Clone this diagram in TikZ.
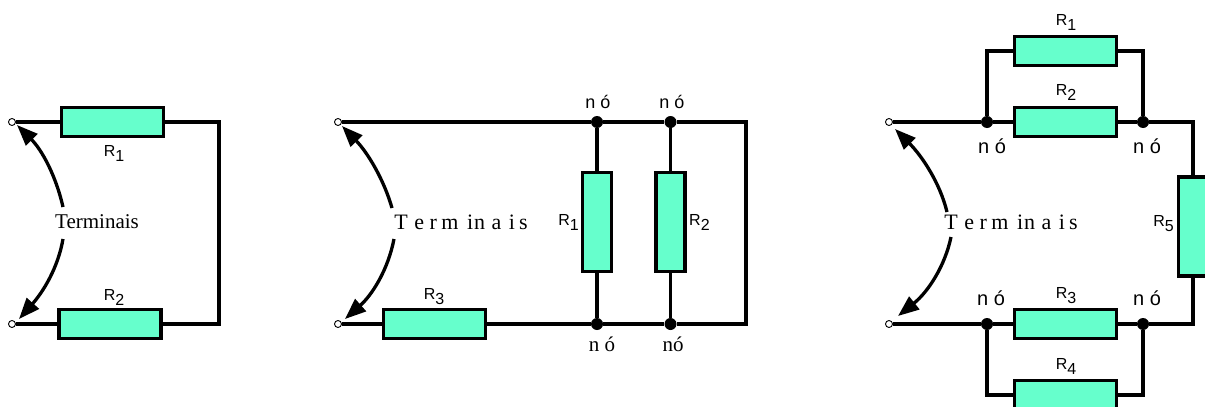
\documentclass[tikz,border=0pt]{standalone}
\usepackage{fontspec}
\setmainfont{Liberation Serif}
\setsansfont{Liberation Sans}
\usetikzlibrary{arrows.meta}
\definecolor{resfill}{HTML}{66FFCC}
\tikzset{
  wire/.style={line width=3.3pt},
  hres/.style={draw, line width=3.6pt, fill=resfill, minimum width=102pt, minimum height=29pt, inner sep=0pt},
  vres/.style={draw, line width=3.6pt, fill=resfill, minimum width=29pt, minimum height=99pt, inner sep=0pt},
  term/.style={circle, draw, line width=0.9pt, fill=white, minimum size=7pt, inner sep=0pt},
  junc/.style={circle, fill=black, minimum size=12pt, inner sep=0pt},
  rlab/.style={font=\sffamily\fontsize{16}{16}\selectfont, inner sep=0pt},
  nlab/.style={font=\sffamily\fontsize{18}{18}\selectfont, inner sep=0pt},
  nlabb/.style={font=\sffamily\fontsize{20}{20}\selectfont, inner sep=0pt},
  nlabs/.style={font=\rmfamily\fontsize{21}{21}\selectfont, inner sep=0pt},
  tlab/.style={font=\rmfamily\fontsize{21}{21}\selectfont, inner sep=0pt},
  tlabs/.style={font=\rmfamily\fontsize{22}{22}\selectfont, inner sep=0pt},
  arr/.style={line width=3.3pt, -{Triangle[length=21pt,width=16pt]}},
}
\newcommand{\Rs}[1]{R\raisebox{-5pt}{#1}}
\newcommand{\spacedterm}{T\kern6.5pt e\kern5.5pt r\kern4.5pt m\kern8.5pt i\kern1pt n\kern6.5pt a\kern7.5pt i\kern4pt s}
\begin{document}
\begin{tikzpicture}[x=1pt,y=-1pt]
\useasboundingbox (0,0) rectangle (1205,407);

% ---------- Diagram 1 ----------
\node[hres] (d1r1) at (112.5,122) {};
\node[hres] (d1r2) at (110,324) {};
\node[term] (t1a) at (12,122) {};
\node[term] (t1b) at (12,324) {};
\coordinate (d1c1) at (219,122);
\coordinate (d1c2) at (219,324);
\draw[wire] (t1a.east) -- (d1r1.west);
\draw[wire] (d1r1.east) -- (d1c1) -- (d1c2) -- (d1r2.east);
\draw[wire] (d1r2.west) -- (t1b.east);
\node[rlab] (d1l1) at (114,153) {\Rs{1}};
\node[rlab] (d1l2) at (114,297) {\Rs{2}};
\node[tlab] (d1t) at (97,222) {Terminais};
\coordinate (d1a1) at (63,207);
\coordinate (d1a2) at (17,125);
\coordinate (d1b1) at (63,239);
\coordinate (d1b2) at (19,319);
\draw[arr] (d1a1) .. controls (56,176) and (42,150) .. (d1a2);
\draw[arr] (d1b1) .. controls (58,268) and (43,292) .. (d1b2);

% ---------- Diagram 2 ----------
\node[term] (t2a) at (338,122) {};
\node[term] (t2b) at (338,324) {};
\node[hres] (d2r3) at (434.5,324) {};
\node[vres] (d2r1) at (597,222) {};
\node[vres] (d2r2) at (670.5,222) {};
\node[junc] (j1) at (597,122) {};
\node[junc] (j2) at (670.5,122) {};
\node[junc] (j3) at (597,324) {};
\node[junc] (j4) at (670.5,324) {};
\coordinate (d2c1) at (746,122);
\coordinate (d2c2) at (746,324);
\draw[wire] (t2a.east) -- (j1) -- (j2) -- (d2c1) -- (d2c2) -- (j4) -- (j3) -- (d2r3.east);
\draw[wire] (d2r3.west) -- (t2b.east);
\draw[wire] (j1) -- (d2r1.north);
\draw[wire] (d2r1.south) -- (j3);
\draw[wire] (j2) -- (d2r2.north);
\draw[wire] (d2r2.south) -- (j4);
\node[rlab, anchor=east] (d2l1) at (579,222) {\Rs{1}};
\node[rlab, anchor=west] (d2l2) at (689,222) {\Rs{2}};
\node[rlab] (d2l3) at (434,297) {\Rs{3}};
\node[nlab] (n1) at (598,102) {n ó};
\node[nlab] (n2) at (672,102) {n ó};
\node[nlabs] (n3) at (602,344) {n ó};
\node[nlabs] (n4) at (673,344) {nó};
\node[tlabs] (d2t) at (461,222) {\spacedterm};
\coordinate (d2a1) at (392,208);
\coordinate (d2a2) at (342,126);
\coordinate (d2b1) at (394,239);
\coordinate (d2b2) at (345,319);
\draw[arr] (d2a1) .. controls (384,180) and (368,153) .. (d2a2);
\draw[arr] (d2b1) .. controls (388,270) and (372,295) .. (d2b2);

% ---------- Diagram 3 ----------
\node[term] (t3a) at (889,122) {};
\node[term] (t3b) at (889,324) {};
\node[hres] (d3r1) at (1065.5,51) {};
\node[hres] (d3r2) at (1065.5,122) {};
\node[hres] (d3r3) at (1065.5,324) {};
\node[hres] (d3r4) at (1065.5,395) {};
\node[vres] (d3r5) at (1193,226.5) {};
\node[junc] (j5) at (987,122) {};
\node[junc] (j6) at (1143,122) {};
\node[junc] (j7) at (987,324) {};
\node[junc] (j8) at (1143,324) {};
\coordinate (d3c1) at (1193,122);
\coordinate (d3c2) at (1193,324);
\coordinate (d3u1) at (987,51);
\coordinate (d3u2) at (1143,51);
\coordinate (d3w1) at (987,395);
\coordinate (d3w2) at (1143,395);
\draw[wire] (t3a.east) -- (j5) -- (d3r2.west);
\draw[wire] (d3r2.east) -- (j6) -- (d3c1) -- (d3r5.north);
\draw[wire] (d3r5.south) -- (d3c2) -- (j8) -- (d3r3.east);
\draw[wire] (d3r3.west) -- (j7) -- (t3b.east);
\draw[wire] (j5) -- (d3u1) -- (d3r1.west);
\draw[wire] (d3r1.east) -- (d3u2) -- (j6);
\draw[wire] (j7) -- (d3w1) -- (d3r4.west);
\draw[wire] (d3r4.east) -- (d3w2) -- (j8);
\node[rlab] (d3l1) at (1066,22) {\Rs{1}};
\node[rlab] (d3l2) at (1066,92) {\Rs{2}};
\node[rlab] (d3l3) at (1066,296) {\Rs{3}};
\node[rlab] (d3l4) at (1066,366) {\Rs{4}};
\node[rlab, anchor=east] (d3l5) at (1174,224) {\Rs{5}};
\node[nlabb] (n5) at (992,146) {n ó};
\node[nlabb] (n6) at (1147,146) {n ó};
\node[nlabb] (n7) at (991,298) {n ó};
\node[nlabb] (n8) at (1147,298) {n ó};
\node[tlabs] (d3t) at (1011,222) {\spacedterm};
\coordinate (d3a1) at (947,212);
\coordinate (d3a2) at (895,129);
\coordinate (d3b1) at (951,237);
\coordinate (d3b2) at (898,316);
\draw[arr] (d3a1) .. controls (940,183) and (922,156) .. (d3a2);
\draw[arr] (d3b1) .. controls (945,266) and (928,292) .. (d3b2);
\end{tikzpicture}
\end{document}
